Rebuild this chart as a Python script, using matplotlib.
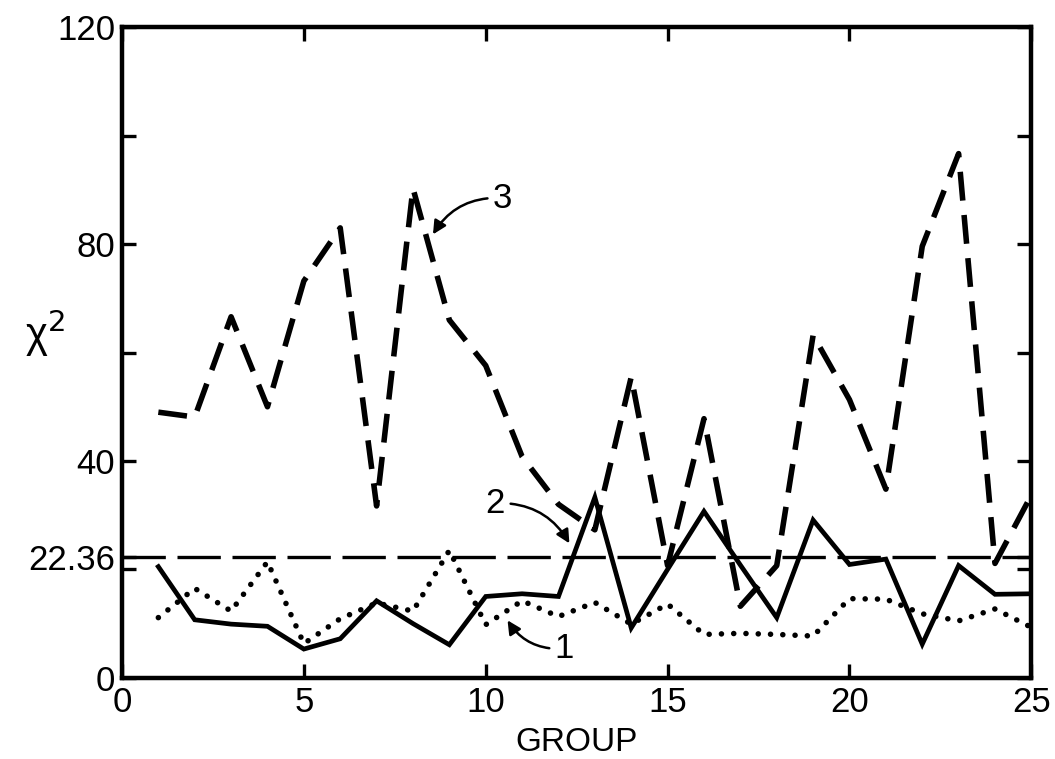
import matplotlib
matplotlib.use("Agg")
import matplotlib.pyplot as plt

plt.rcParams['font.family'] = ['Liberation Sans', 'DejaVu Sans']

groups = list(range(1, 26))

# curve 1 (dotted)
chi1 = [11.1, 16.5, 12.3, 21.4, 6.3, 10.9, 13.8, 12.3, 23.5, 9.8,
        14.2, 11.3, 13.9, 9.9, 13.6, 8.0, 8.2, 8.0, 7.7, 14.6,
        14.5, 11.8, 10.5, 12.7, 9.3]

# curve 2 (solid)
chi2 = [20.5, 10.7, 9.9, 9.5, 5.3, 7.2, 14.2, 10.0, 6.1, 15.0,
        15.5, 15.0, 33.3, 9.2, 20.0, 30.7, 20.8, 11.1, 29.1, 20.9,
        21.9, 6.2, 20.7, 15.4, 15.5]

# curve 3 (dashed)
chi3 = [49.0, 48.1, 66.6, 50.0, 73.2, 83.0, 31.7, 90.3, 66.0, 57.6,
        40.8, 32.0, 27.3, 55.5, 20.7, 47.8, 13.2, 20.7, 63.2, 51.3,
        34.8, 79.6, 96.7, 21.1, 33.7]

critical = 22.36

fig = plt.figure(figsize=(10.55, 7.59), dpi=100)
ax = fig.add_axes([0.1156, 0.107, 0.862, 0.857])

ax.plot(groups, chi3, color='black', lw=4.0, linestyle=(0, (5.2, 2.6)),
        solid_capstyle='butt', dash_capstyle='butt')
ax.plot(groups, chi2, color='black', lw=3.4, solid_joinstyle='miter')
ax.plot(groups, chi1, color='black', lw=4.0, linestyle=(0, (0.01, 2.2)),
        dash_capstyle='round')
ax.axhline(critical, color='black', lw=2.4, linestyle=(0, (13, 3.5)))

ax.set_xlim(0, 25)
ax.set_ylim(0, 120)
ax.set_xticks([0, 5, 10, 15, 20, 25])
ax.set_yticks([0, critical, 40, 80, 120], labels=['0', '22.36', '40', '80', '120'])
ax.set_yticks([20, 60, 100], minor=True)
ax.tick_params(which='both', direction='in', length=10, width=2.4,
               top=True, right=True, labelsize=25, pad=5)
ax.tick_params(axis='x', pad=6)
for s in ax.spines.values():
    s.set_linewidth(3.2)

ax.set_xlabel('GROUP', fontsize=24, va='center')
ax.xaxis.set_label_coords(0.5, -0.1)
ax.set_ylabel('χ$^2$', fontsize=30, rotation=0)
ax.yaxis.set_label_coords(-0.085, 0.49)

arrow = dict(arrowstyle='-|>', color='black', lw=1.8, mutation_scale=20)
ax.annotate('3', xy=(8.55, 81.8), xytext=(10.2, 88.5), fontsize=25,
            va='center', ha='left',
            arrowprops=dict(arrow, connectionstyle='arc3,rad=0.3',
                            shrinkA=2, shrinkB=0))
ax.annotate('2', xy=(12.3, 24.8), xytext=(10.0, 32.2), fontsize=25,
            va='center', ha='left',
            arrowprops=dict(arrow, connectionstyle='arc3,rad=-0.3',
                            shrinkA=2, shrinkB=0))
ax.annotate('1', xy=(10.6, 10.6), xytext=(11.9, 5.4), fontsize=25,
            va='center', ha='left',
            arrowprops=dict(arrow, connectionstyle='arc3,rad=-0.3',
                            shrinkA=2, shrinkB=0))

fig.savefig('out.png', dpi=100)
